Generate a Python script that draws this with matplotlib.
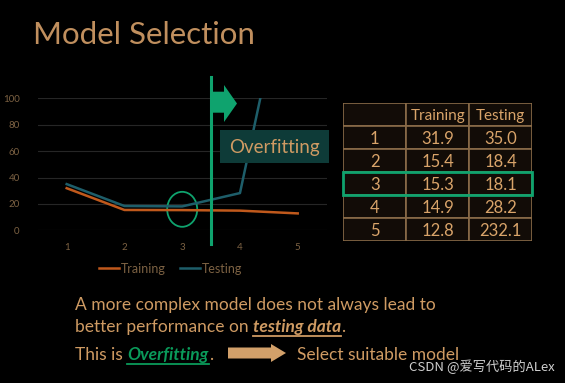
import matplotlib
matplotlib.use("Agg")
import matplotlib.pyplot as plt
from matplotlib.patches import Rectangle, Ellipse, Polygon
from matplotlib.lines import Line2D

# values
models = [1, 2, 3, 4, 5]
train_err = [31.9, 15.4, 15.3, 14.9, 12.8]
test_err = [35.0, 18.4, 18.1, 28.2, 232.1]
yticks = [0, 20, 40, 60, 80, 100]
col_labels = ["", "Training", "Testing"]
best_model = 3

W, H = 565, 383
TAN = "#CF9B63"
DARK_TAN = "#7d6243"
GREEN = "#0FA36E"
ORANGE = "#C0591C"
TEAL = "#1E5E6A"

plt.rcParams["font.family"] = ["Lato", "DejaVu Sans"]

fig = plt.figure(figsize=(W / 100, H / 100), dpi=100, facecolor="black")


def px(x, y):
    # pixel position (from top-left) to figure fraction
    return (x / W, 1 - y / H)


# title
fig.text(*px(33, 44), "Model Selection", fontsize=22.5, color="#C08F5E",
         fontweight="normal", va="baseline")

# line chart
ax = fig.add_axes([37.8 / W, 1 - 230.3 / H, (326.6 - 37.8) / W, (230.3 - 98.3) / H])
ax.set_facecolor("black")
ax.plot(models, train_err, color=ORANGE, lw=1.8, label="Training")
ax.plot(models, test_err, color=TEAL, lw=1.8, label="Testing")
ax.set_xlim(0.5, 5.5)
ax.set_ylim(0, 100)
ax.set_xticks(models)
ax.set_yticks(yticks)
ax.grid(axis="y", color="#262626", lw=0.8)
ax.set_axisbelow(True)
for s in ax.spines.values():
    s.set_visible(False)
ax.tick_params(length=0, colors=DARK_TAN, labelsize=7)
ax.tick_params(axis="x", pad=9)
ax.tick_params(axis="y", pad=13)
ax.legend(loc="upper center", bbox_to_anchor=(0.46, -0.16), ncol=2, frameon=False,
          fontsize=9, labelcolor=DARK_TAN, handlelength=1.6, handletextpad=0.1,
          columnspacing=1.2)

# circle around the best model
ax.add_patch(Ellipse((best_model, 15.9), 0.52, 26.5, fill=False, ec=GREEN, lw=1.3))

# vertical divider + arrow
ax.add_line(Line2D([3.5, 3.5], [-10, 116.5], color=GREEN, lw=2.2, clip_on=False))
arrow_pts = [(212, 91.7), (224, 91.7), (224, 85), (237, 103.5), (224, 122),
             (224, 112.7), (212, 112.7)]
fig.patches.append(Polygon([px(*p) for p in arrow_pts], closed=True, fc=GREEN, ec="none",
                           transform=fig.transFigure))

# overfitting label
fig.patches.append(Rectangle(px(220, 163), 109 / W, 33 / H, fc="#0E3B38", ec="none",
                             transform=fig.transFigure))
fig.text(*px(274.5, 147), "Overfitting", fontsize=13.5, color=TAN, ha="center", va="center")

# table
tx0, ty0, tx1, ty1 = 343.3, 103.3, 532.3, 241
axt = fig.add_axes([tx0 / W, 1 - ty1 / H, (tx1 - tx0) / W, (ty1 - ty0) / H])
axt.set_xlim(0, 3)
axt.set_ylim(len(models) + 1, 0)
axt.axis("off")
rows = [col_labels] + [[str(m), f"{a:.1f}", f"{b:.1f}"] for m, a, b in zip(models, train_err, test_err)]
for r, row in enumerate(rows):
    for c, val in enumerate(row):
        axt.add_patch(Rectangle((c, r), 1, 1, fc="#120c07", ec="#8a6b48", lw=1.2))
        axt.text(c + 0.5, r + 0.55, val, ha="center", va="center", fontsize=12 if r else 11,
                 color="#D9A46A")
axt.add_patch(Rectangle((0, best_model), 3, 1, fill=False, ec=GREEN, lw=2, clip_on=False,
                        zorder=5))

# bottom text
fig.canvas.draw()
renderer = fig.canvas.get_renderer()


def line_parts(parts, x, y, size=12.5):
    for txt, color, style, ul in parts:
        t = fig.text(*px(x, y), txt, fontsize=size, color=color, va="baseline",
                     fontstyle="italic" if style else "normal",
                     fontweight="bold" if style else "normal")
        bb = t.get_window_extent(renderer)
        if ul:
            fig.lines.append(Line2D([bb.x0 / W, bb.x1 / W], [px(0, y + 4)[1]] * 2, color=color,
                                    lw=1.3, transform=fig.transFigure))
        x += bb.width
    return x


line_parts([("A more complex model does not always lead to", TAN, False, False)], 75, 310)
line_parts([("better performance on ", TAN, False, False),
            ("testing data", TAN, True, True),
            (".", TAN, False, False)], 75, 331.7)
line_parts([("This is ", TAN, False, False),
            ("Overfitting", "#0A9A5A", True, True),
            (".", TAN, False, False)], 75, 360)

arrow2 = [(228, 347.5), (271, 347.5), (271, 344), (286, 353), (271, 362), (271, 358.5),
          (228, 358.5)]
fig.patches.append(Polygon([px(*p) for p in arrow2], closed=True, fc="#D2A06A", ec="none",
                           transform=fig.transFigure))
line_parts([("Select suitable model", TAN, False, False)], 297, 360)

fig.text(*px(409, 371), "CSDN @爱写代码的ALex", fontsize=9.5, color="#cfcfcf",
         family=["Noto Sans CJK SC", "DejaVu Sans"], va="baseline")

fig.savefig("out.png", dpi=100, facecolor="black")
